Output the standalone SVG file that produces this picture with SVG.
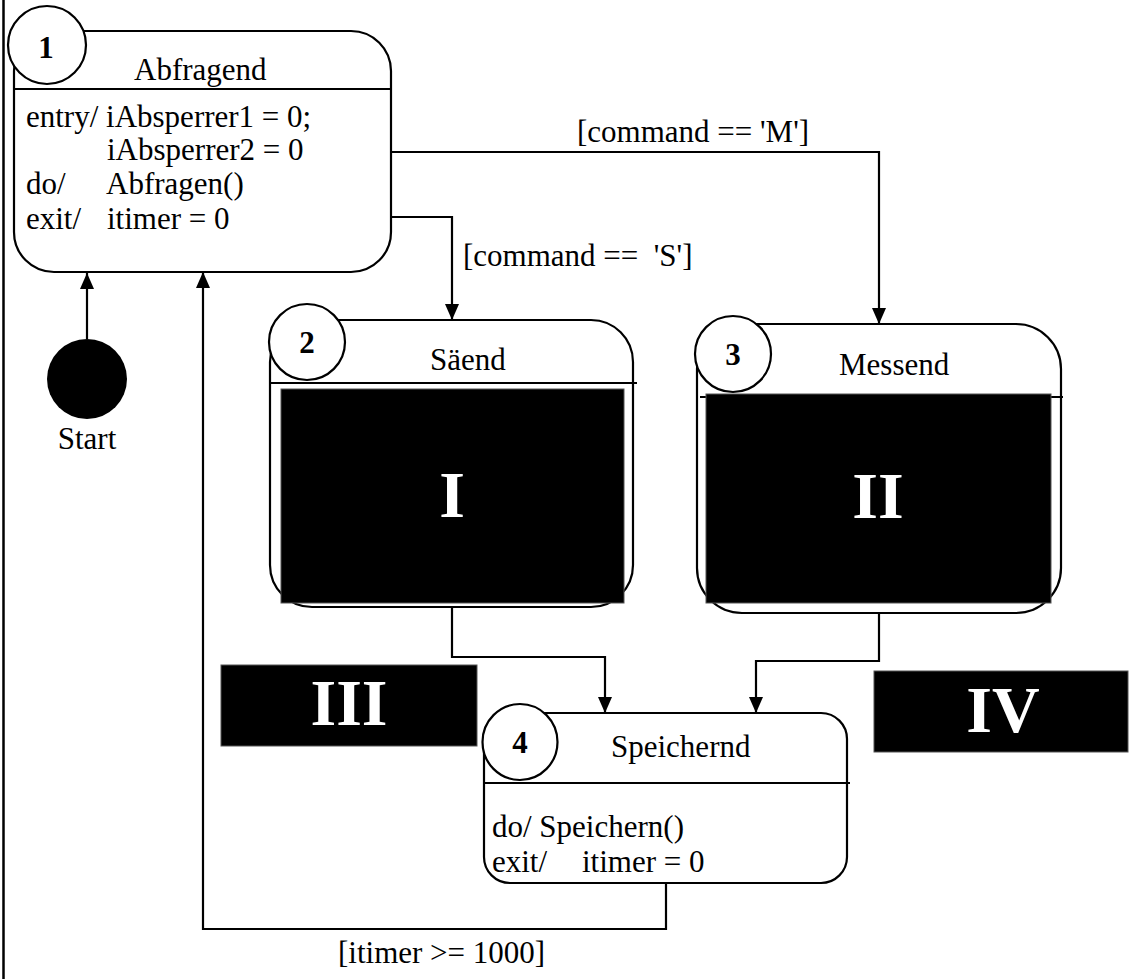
<svg xmlns="http://www.w3.org/2000/svg" width="1129" height="979" viewBox="0 0 1129 979">
  <style>
    text { font-family: "Liberation Serif", "Times New Roman", serif; fill: #000; }
    .t { font-size: 31px; }
    .num { font-size: 31px; font-weight: bold; text-anchor: middle; }
    .big { font-size: 66px; font-weight: bold; fill: #fff; text-anchor: middle; }
    .state { fill: #fff; stroke: #000; stroke-width: 2.2; }
    .badge { fill: #fff; stroke: #000; stroke-width: 2.2; }
    .div { stroke: #000; stroke-width: 2.2; }
    .mask { fill: #000; stroke: #555; stroke-width: 1; }
    .edge { fill: none; stroke: #000; stroke-width: 2.2; }
  </style>
  <defs>
    <marker id="arrow" markerUnits="userSpaceOnUse" markerWidth="16" markerHeight="14" refX="16" refY="7" orient="auto">
      <path d="M0,0 L16,7 L0,14 z" fill="#000"/>
    </marker>
  </defs>

  <rect width="1129" height="979" fill="#fff"/>
  <!-- left frame edge -->
  <line x1="3.5" y1="0" x2="3.5" y2="979" stroke="#000" stroke-width="2.5"/>

  <!-- transitions -->
  <g id="connectors">
    <path class="edge" d="M87,339 L87,273" marker-end="url(#arrow)"/>
    <path class="edge" d="M391,217 L452,217 L452,320" marker-end="url(#arrow)"/>
    <path class="edge" d="M391,152 L879,152 L879,324" marker-end="url(#arrow)"/>
    <path class="edge" d="M452,607 L452,657 L605,657 L605,713" marker-end="url(#arrow)"/>
    <path class="edge" d="M879,613 L879,661 L756,661 L756,713" marker-end="url(#arrow)"/>
    <path class="edge" d="M666,883 L666,929 L203,929 L203,272" marker-end="url(#arrow)"/>
    <text class="t" x="577" y="142">[command == 'M']</text>
    <text class="t" x="463" y="266" xml:space="preserve">[command ==  'S']</text>
    <text class="t" x="338" y="963">[itimer &gt;= 1000]</text>
  </g>

  <!-- initial pseudo-state -->
  <g id="start">
    <circle cx="87" cy="379" r="40" fill="#000"/>
    <text class="t" x="87" y="449" text-anchor="middle">Start</text>
  </g>

  <!-- state 1 -->
  <g id="state1">
    <rect class="state" x="14" y="31" width="377" height="241" rx="40" ry="40"/>
    <line class="div" x1="14" y1="89" x2="391" y2="89"/>
    <circle class="badge" cx="47" cy="45" r="39"/>
    <text class="num" x="46" y="58">1</text>
    <text class="t" x="134" y="80">Abfragend</text>
    <text class="t" x="26" y="127">entry/ iAbsperrer1 = 0;</text>
    <text class="t" x="107" y="160">iAbsperrer2 = 0</text>
    <text class="t" x="26" y="194">do/</text>
    <text class="t" x="106" y="194">Abfragen()</text>
    <text class="t" x="26" y="229">exit/</text>
    <text class="t" x="107" y="229">itimer = 0</text>
  </g>

  <!-- state 2 -->
  <g id="state2">
    <rect class="state" x="270" y="320" width="363" height="287" rx="42" ry="42"/>
    <line class="div" x1="270" y1="383" x2="637" y2="383"/>
    <circle class="badge" cx="307" cy="342" r="38"/>
    <text class="num" x="307" y="353">2</text>
    <text class="t" x="430" y="370">Säend</text>
    <rect class="mask" x="281" y="389" width="343" height="214"/>
    <text class="big" x="452" y="517">I</text>
  </g>

  <!-- state 3 -->
  <g id="state3">
    <rect class="state" x="697" y="324" width="364" height="289" rx="45" ry="45"/>
    <line class="div" x1="700" y1="397" x2="1063" y2="397"/>
    <circle class="badge" cx="733" cy="354" r="38"/>
    <text class="num" x="733" y="365">3</text>
    <text class="t" x="839" y="375">Messend</text>
    <rect class="mask" x="706" y="394" width="345" height="209"/>
    <text class="big" x="878" y="518">II</text>
  </g>

  <!-- state 4 -->
  <g id="state4">
    <rect class="state" x="484" y="713" width="363" height="170" rx="26" ry="26"/>
    <line class="div" x1="484" y1="783" x2="850" y2="783"/>
    <ellipse class="badge" cx="520" cy="742" rx="37.5" ry="38"/>
    <text class="num" x="520" y="753">4</text>
    <text class="t" x="611" y="757">Speichernd</text>
    <text class="t" x="492" y="837">do/ Speichern()</text>
    <text class="t" x="492" y="872">exit/</text>
    <text class="t" x="582" y="872">itimer = 0</text>
  </g>

  <!-- blanked regions -->
  <g id="box3">
    <rect class="mask" x="221" y="665" width="256" height="81"/>
    <text class="big" x="349" y="725">III</text>
  </g>
  <g id="box4">
    <rect class="mask" x="874" y="671" width="254" height="81"/>
    <text class="big" x="1003" y="732">IV</text>
  </g>
</svg>
